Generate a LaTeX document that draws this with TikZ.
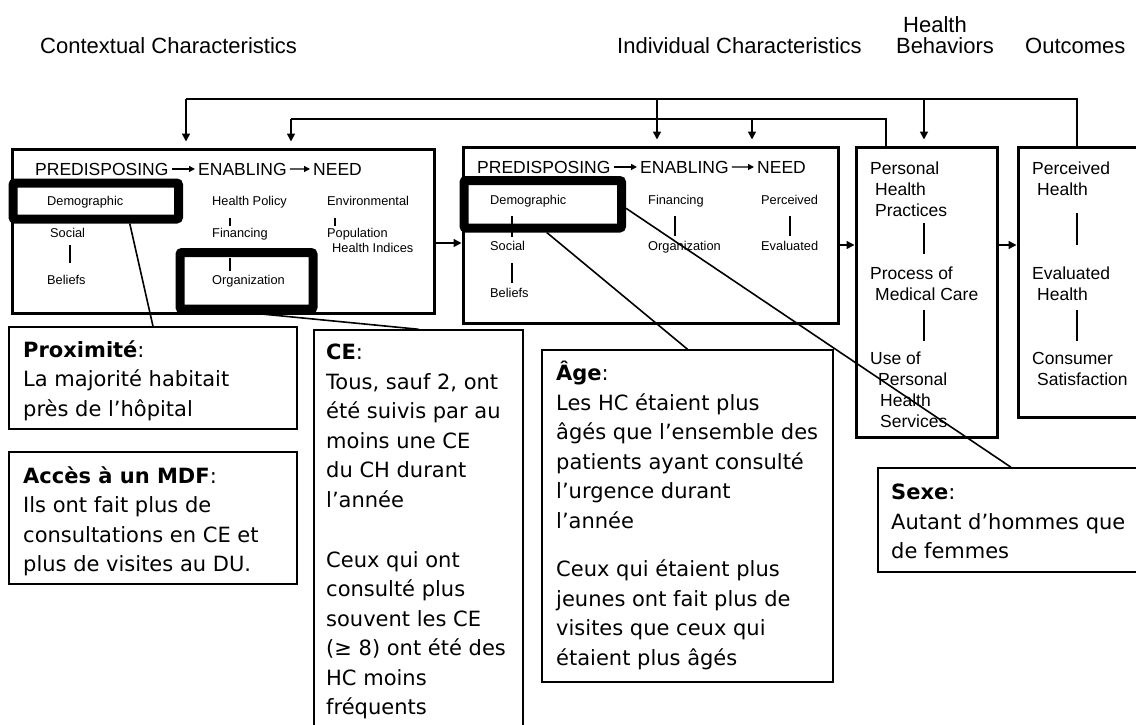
\documentclass[tikz,border=0pt]{standalone}
\usepackage{fontspec}
\setmainfont{Liberation Sans}
\newfontfamily\notefont{DejaVu Sans}
\usetikzlibrary{arrows.meta}

\begin{document}
\begin{tikzpicture}[
    x=1pt, y=-1pt,
    hdr/.style={anchor=base west, inner sep=0pt, font=\fontsize{22}{21}\selectfont},
    stagetxt/.style={anchor=base west, inner xsep=3pt, inner ysep=0pt, font=\fontsize{17.5}{21}\selectfont},
    lbl/.style={anchor=base west, inner sep=0pt, font=\fontsize{12.8}{15}\selectfont},
    itemtxt/.style={anchor=north west, inner sep=0pt, align=left, font=\fontsize{17.5}{21.2}\selectfont,
        execute at begin node={\rule{0pt}{15pt}}},
    panel/.style={draw, line width=3pt, inner sep=0pt},
    hilite/.style={draw, line width=9pt, rounded corners=2pt, inner sep=0pt},
    notebox/.style={draw, line width=1.5pt, inner sep=0pt},
    notetxt/.style={anchor=north west, inner sep=0pt, align=left, font=\notefont\fontsize{21}{29.5}\selectfont,
        execute at begin node={\rule{0pt}{21pt}}},
    tie/.style={line width=1.4pt},
    fbline/.style={line width=1.6pt},
    fbarrow/.style={fbline, -{Triangle[length=8pt,width=8pt]}, shorten >=6pt},
    txtarrow/.style={line width=1.3pt, -{Triangle[length=6pt,width=6pt]}},
    flow/.style={line width=1.5pt, -{Triangle[length=8pt,width=8pt]}},
    callout/.style={line width=1.6pt}
]
    \path[use as bounding box, fill=white] (0,0) rectangle (1136,724);
    \clip (0,0) rectangle (1136,724);

    % headers
    \node[hdr] (hctx) at (40,53) {Contextual Characteristics};
    \node[hdr] (hind) at (617,53) {Individual Characteristics};
    \node[hdr, align=center, anchor=north, execute at begin node={\rule{0pt}{17pt}}] (hbeh) at (945,16) {Health\hspace*{20pt}\\Behaviors};
    \node[hdr] (hout) at (1025,53) {Outcomes};

    % main boxes
    \node[panel, minimum width=422, minimum height=164] (ctx) at (223,231) {};
    \node[panel, minimum width=375, minimum height=176] (ind) at (650.5,235) {};
    \node[panel, minimum width=141, minimum height=290] (beh) at (926.5,292) {};
    \node[panel, minimum width=132, minimum height=270] (outc) at (1084,282) {};

    % contextual characteristics
    \node[stagetxt] (p1) at (32,175) {PREDISPOSING};
    \node[stagetxt] (e1) at (195,175) {ENABLING};
    \node[stagetxt] (n1) at (310,175) {NEED};
    \draw[txtarrow] (p1) -- (e1);
    \draw[txtarrow] (e1) -- (n1);

    \node[lbl] (dem1) at (47,205) {Demographic};
    \node[lbl] (soc1) at (50,237) {Social};
    \node[lbl] (bel1) at (47,284) {Beliefs};
    \node[lbl] (hp1) at (212,205) {Health Policy};
    \node[lbl] (fin1) at (212,237) {Financing};
    \node[lbl] (org1) at (212,284) {Organization};
    \node[lbl] (env1) at (327,205) {Environmental};
    \node[lbl] (pop1) at (327,237) {Population};
    \node[lbl] (hi1) at (332,252) {Health Indices};
    \draw[tie, shorten <=8pt, shorten >=12pt] ([xshift=20pt]soc1.south west) -- ([xshift=20pt]soc1.south west |- bel1.north);
    \draw[tie, shorten <=10pt, shorten >=2pt] ([xshift=18pt]hp1.south west) -- ([xshift=18pt]hp1.south west |- fin1.north);
    \draw[tie, shorten <=18pt, shorten >=4pt] ([xshift=18pt]fin1.south west) -- ([xshift=18pt]fin1.south west |- org1.north);
    \draw[tie, shorten <=13pt, shorten >=2pt] ([xshift=8pt]env1.south west) -- ([xshift=8pt]env1.south west |- pop1.north);

    % individual characteristics
    \node[stagetxt] (p2) at (474,173) {PREDISPOSING};
    \node[stagetxt] (e2) at (637,173) {ENABLING};
    \node[stagetxt] (n2) at (754,173) {NEED};
    \draw[txtarrow] (p2) -- (e2);
    \draw[txtarrow] (e2) -- (n2);

    \node[lbl] (dem2) at (490,204) {Demographic};
    \node[lbl] (soc2) at (490,250) {Social};
    \node[lbl] (bel2) at (490,297) {Beliefs};
    \node[lbl] (fin2) at (648,204) {Financing};
    \node[lbl] (org2) at (648,250) {Organization};
    \node[lbl] (per2) at (761,204) {Perceived};
    \node[lbl] (eva2) at (761,250) {Evaluated};
    \draw[tie, shorten <=9pt, shorten >=4pt] ([xshift=22pt]dem2.south west) -- ([xshift=22pt]dem2.south west |- soc2.north);
    \draw[tie, shorten <=13pt, shorten >=5pt] ([xshift=22pt]soc2.south west) -- ([xshift=22pt]soc2.south west |- bel2.north);
    \draw[tie, shorten <=9pt, shorten >=5pt] ([xshift=27pt]fin2.south west) -- ([xshift=27pt]fin2.south west |- org2.north);
    \draw[tie, shorten <=12pt, shorten >=5pt] ([xshift=29pt]per2.south west) -- ([xshift=29pt]per2.south west |- eva2.north);

    % health behaviors and outcomes
    \node[itemtxt] (beh1) at (870,161.5) {Personal\\\hspace*{5pt}Health\\\hspace*{5pt}Practices};
    \node[itemtxt] (beh2) at (870,266.5) {Process of\\\hspace*{5pt}Medical Care};
    \node[itemtxt] (beh3) at (870,351.5) {Use of\\\hspace*{8pt}Personal\\\hspace*{10pt}Health\\\hspace*{10pt}Services};
    \node[itemtxt] (out1) at (1032,161.5) {Perceived\\\hspace*{5pt}Health};
    \node[itemtxt] (out2) at (1032,266.5) {Evaluated\\\hspace*{5pt}Health};
    \node[itemtxt] (out3) at (1032,352) {Consumer\\\hspace*{5pt}Satisfaction};

    % feedback lines
    \coordinate (fbL) at (186,99);
    \coordinate (fbInd) at (657,99);
    \coordinate (fbBeh) at (924,99);
    \coordinate (fbR) at (1077,99);
    \coordinate (ibL) at (291,119);
    \coordinate (ibInd) at (752,119);
    \coordinate (ibR) at (886,119);

    \draw[tie, shorten <=6pt, shorten >=12.5pt] (beh1.south -| fbBeh) -- (beh2.north -| fbBeh);
    \draw[tie, shorten <=9.3pt, shorten >=10.5pt] (beh2.south -| fbBeh) -- (beh3.north -| fbBeh);
    \draw[tie, shorten <=17.3pt, shorten >=21.5pt] (out1.south -| fbR) -- (out2.north -| fbR);
    \draw[tie, shorten <=9.3pt, shorten >=11pt] (out2.south -| fbR) -- (out3.north -| fbR);

    \draw[fbline] (outc.north -| fbR) -- (fbR) -- (fbL);
    \draw[fbline] (beh.north -| ibR) -- (ibR) -- (ibL);
    \draw[fbarrow] (fbL) -- (fbL |- ctx.north);
    \draw[fbarrow] (fbInd) -- (fbInd |- ind.north);
    \draw[fbarrow] (fbBeh) -- (fbBeh |- beh.north);
    \draw[fbarrow] (ibL) -- (ibL |- ctx.north);
    \draw[fbarrow] (ibInd) -- (ibInd |- ind.north);

    % flow between boxes
    \draw[flow] ([yshift=-12pt]ctx.east) -- ([yshift=-12pt]ctx.east -| ind.west);
    \draw[flow] ([yshift=-10pt]ind.east) -- ([yshift=-10pt]ind.east -| beh.west);
    \draw[flow] ([yshift=-10pt]ind.east -| beh.east) -- ([yshift=-10pt]ind.east -| outc.west);

    % highlights
    \node[hilite, minimum width=165.5, minimum height=36] (hlDemo1) at (95.75,201) {};
    \node[hilite, minimum width=133, minimum height=56.5] (hlOrg) at (246.5,280.75) {};
    \node[hilite, minimum width=157.5, minimum height=47.5] (hlDemo2) at (542.75,204.25) {};

    % notes
    \node[notebox, minimum width=288, minimum height=102] (prox) at (153,378) {};
    \node[notebox, minimum width=288, minimum height=132] (acces) at (153,518) {};
    \node[notebox, minimum width=209, minimum height=415] (ce) at (418.5,537.5) {};
    \node[notebox, minimum width=291, minimum height=332] (age) at (687.5,516) {};
    \node[notebox, minimum width=266, minimum height=104] (sexe) at (1011,520) {};

    \node[notetxt] (proxT) at (23,340) {\textbf{Proximité}:\\La majorité habitait\\près de l’hôpital};
    \node[notetxt] (accesT) at (23,466) {\textbf{Accès à un MDF}:\\Ils ont fait plus de\\consultations en CE et\\plus de visites au DU.};
    \node[notetxt] (ceT) at (326,344) {\textbf{CE}:\\Tous, sauf 2, ont\\été suivis par au\\moins une CE\\du CH durant\\l’année\\[30.5pt]Ceux qui ont\\consulté plus\\souvent les CE\\(≥ 8) ont été des\\HC moins\\fréquents};
    \node[notetxt] (ageT) at (556,361) {\textbf{Âge}:\\Les HC étaient plus\\âgés que l’ensemble des\\patients ayant consulté\\l’urgence durant\\l’année\\[19pt]Ceux qui étaient plus\\jeunes ont fait plus de\\visites que ceux qui\\étaient plus âgés};
    \node[notetxt] (sexeT) at (891,484) {\textbf{Sexe}:\\Autant d’hommes que\\de femmes};

    % callouts
    \draw[callout] ([xshift=34pt]hlDemo1.south) -- (prox.north);
    \draw[callout] ([xshift=10pt]hlOrg.south) -- (ce.north);
    \draw[callout] ([xshift=4pt]hlDemo2.south) -- (age.north);
    \draw[callout] ([yshift=-4pt]hlDemo2.east) -- (sexe.north);
\end{tikzpicture}
\end{document}
